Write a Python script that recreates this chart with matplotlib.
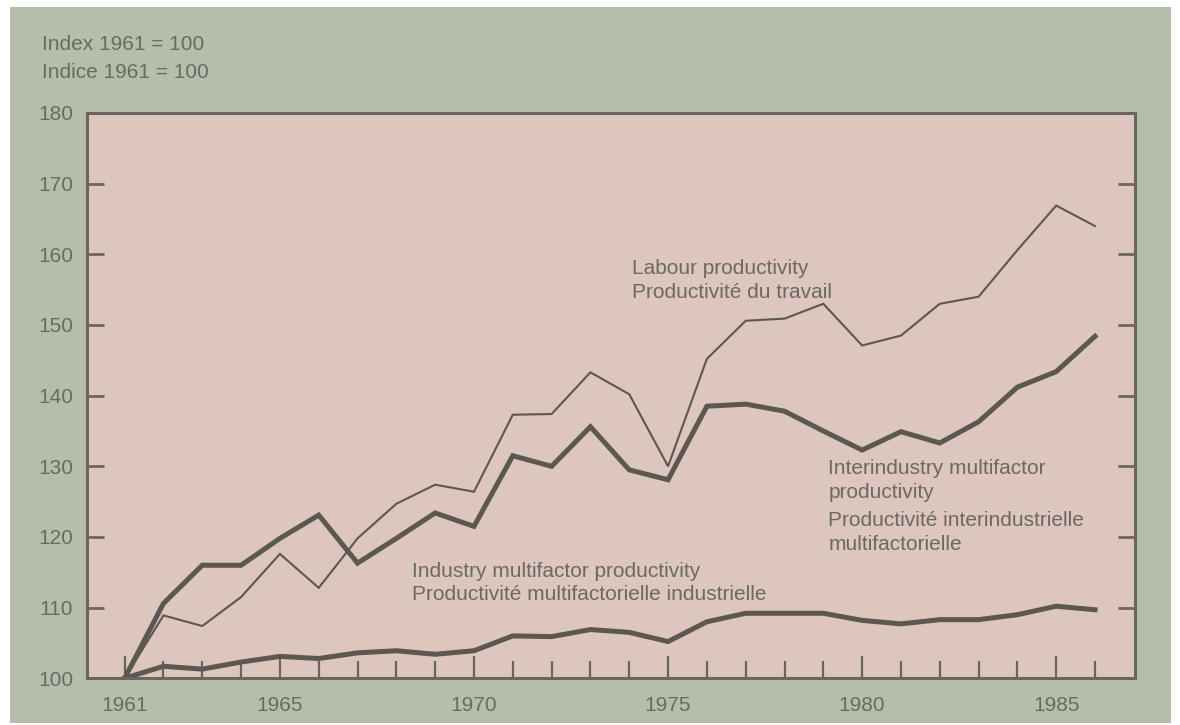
import matplotlib.pyplot as plt
from matplotlib.patches import Rectangle

# data (index 1961 = 100)
years = list(range(1961, 1987))
labour = [100.0, 108.9, 107.4, 111.5, 117.6, 112.8, 119.8, 124.7, 127.4, 126.4,
          137.3, 137.4, 143.3, 140.2, 130.0, 145.2, 150.6, 150.9, 153.0, 147.1,
          148.5, 153.0, 154.0, 160.6, 166.9, 164.0]
interindustry = [100.0, 110.6, 116.0, 116.0, 119.8, 123.1, 116.3, 119.8, 123.4, 121.5,
                 131.5, 130.0, 135.6, 129.5, 128.1, 138.5, 138.8, 137.8, 135.0, 132.3,
                 134.9, 133.3, 136.3, 141.2, 143.4, 148.4]
industry = [100.0, 101.7, 101.3, 102.3, 103.1, 102.8, 103.6, 103.9, 103.4, 103.9,
            106.0, 105.9, 106.9, 106.5, 105.2, 108.0, 109.2, 109.2, 109.2, 108.2,
            107.7, 108.3, 108.3, 109.0, 110.2, 109.7]

major_years = [1961, 1965, 1970, 1975, 1980, 1985]
y_ticks = [100, 110, 120, 130, 140, 150, 160, 170, 180]

green = '#b5beaa'
pink = '#dcc6bd'
line_col = '#5d5752'
text_col = '#6b6964'
spine_col = '#6a6560'

plt.rcParams['font.family'] = ['Liberation Sans', 'DejaVu Sans']

fig = plt.figure(figsize=(11.8, 7.25), dpi=100)
fig.patch.set_facecolor('white')
# green panel behind everything
fig.patches.append(Rectangle((10 / 1180, 2 / 725), 1161 / 1180, 716 / 725,
                             transform=fig.transFigure, facecolor=green,
                             edgecolor='none', zorder=-10))

ax = fig.add_axes([87 / 1180, 46.7 / 725, 1048 / 1180, 565.3 / 725])
ax.set_facecolor(pink)

ax.plot(years, labour, color=line_col, lw=1.5, solid_joinstyle='miter')
ax.plot(years, interindustry, color=line_col, lw=3.6, solid_joinstyle='miter')
ax.plot(years, industry, color=line_col, lw=3.6, solid_joinstyle='round')

ax.set_xlim(1960.03, 1987.03)
ax.set_ylim(100, 180)

ax.set_xticks(major_years)
ax.set_xticks([y for y in years if y not in major_years], minor=True)
ax.set_yticks(y_ticks)

ax.tick_params(axis='x', which='major', direction='in', length=16, width=1.6,
               color=spine_col, labelsize=15, labelcolor=text_col, pad=13)
ax.tick_params(axis='x', which='minor', direction='in', length=12, width=1.6,
               color=spine_col)
ax.tick_params(axis='y', direction='in', length=12.5, width=2, color=spine_col,
               right=True, labelsize=15, labelcolor=text_col, pad=10)

for s in ax.spines.values():
    s.set_color(spine_col)
    s.set_linewidth(2.2)

fig.text(42 / 1180, 1 - 45 / 725, 'Index 1961 = 100', fontsize=15,
         color=text_col, va='center')
fig.text(42 / 1180, 1 - 72 / 725, 'Indice 1961 = 100', fontsize=15,
         color=text_col, va='center')

kw = dict(fontsize=15, color=text_col, va='center', ha='left')
ax.text(1974.06, 158.0, 'Labour productivity', **kw)
ax.text(1974.06, 154.6, 'Productivité du travail', **kw)
ax.text(1979.13, 129.7, 'Interindustry multifactor', **kw)
ax.text(1979.13, 126.3, 'productivity', **kw)
ax.text(1979.13, 122.4, 'Productivité interindustrielle', **kw)
ax.text(1979.13, 119.0, 'multifactorielle', **kw)
ax.text(1968.4, 115.1, 'Industry multifactor productivity', **kw)
ax.text(1968.4, 111.8, 'Productivité multifactorielle industrielle', **kw)

fig.savefig('out.png', dpi=100, facecolor=fig.get_facecolor())
